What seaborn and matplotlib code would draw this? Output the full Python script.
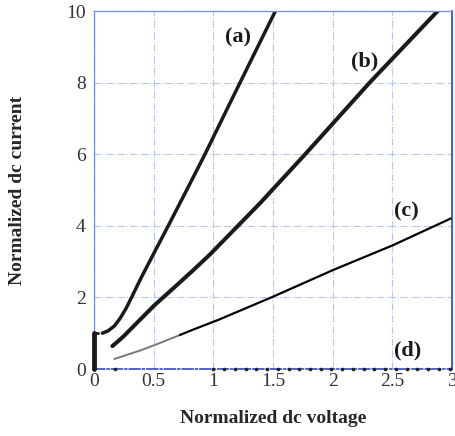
import matplotlib
matplotlib.use('Agg')
import matplotlib.pyplot as plt
import seaborn as sns

# curve (a)
a_v = [0.07, 0.12, 0.17, 0.22, 0.27, 0.31, 0.4, 0.47, 0.63, 0.8, 0.93, 1.15, 1.52]
a_i = [1.0, 1.07, 1.2, 1.42, 1.7, 1.97, 2.58, 3.03, 4.05, 5.15, 6.0, 7.5, 10.0]
# curve (b)
b_v = [0.154, 0.2, 0.25, 0.363, 0.503, 0.67, 0.838, 0.972, 1.391, 1.77, 2.31, 2.88]
b_i = [0.64, 0.77, 0.92, 1.3, 1.77, 2.27, 2.78, 3.2, 4.63, 6.0, 8.0, 10.0]
# curve (c): grey start, then black
c_grey_v = [0.17, 0.39, 0.51, 0.72]
c_grey_i = [0.28, 0.52, 0.67, 0.95]
c_v = [0.72, 0.838, 1.04, 1.5, 2.0, 2.5, 3.0]
c_i = [0.95, 1.11, 1.37, 2.02, 2.76, 3.45, 4.22]
# curve (d): points on the axis
d_v = [0.18, 1.0, 1.09, 1.18, 1.27, 1.36, 1.45, 1.54, 1.63, 1.72, 1.81, 1.90,
       1.99, 2.08, 2.17, 2.26, 2.35, 2.44, 2.53, 2.62, 2.71, 2.80, 2.89, 2.98]
d_i = [0.0] * len(d_v)
# vertical jump at V = 0
bar_v = [0.0, 0.0]
bar_i = [0.0, 1.0]
cap_v = [0.0, 0.035]
cap_i = [1.0, 1.0]

labels = ['(a)', '(b)', '(c)', '(d)']
label_v = [1.21, 2.27, 2.62, 2.63]
label_i = [9.25, 8.58, 4.39, 0.53]

xticks = [0, 0.5, 1, 1.5, 2, 2.5, 3]
xticklabels = ['0', '0.5', '1', '1.5', '2', '2.5', '3']
yticks = [0, 2, 4, 6, 8, 10]

sns.set_style('white')
plt.rcParams['font.family'] = ['Liberation Serif', 'DejaVu Serif']

fig = plt.figure(figsize=(4.55, 4.36), dpi=100)
ax = fig.add_axes([94/455, 1 - 369/436, 358/455, 358/436])

line_kw = dict(sort=False, estimator=None, ax=ax)
sns.lineplot(x=a_v, y=a_i, color='#1a1a1a', lw=2.5, **line_kw)
sns.lineplot(x=b_v, y=b_i, color='#1a1a1a', lw=2.9, **line_kw)
sns.lineplot(x=c_grey_v, y=c_grey_i, color='#777777', lw=1.4, **line_kw)
sns.lineplot(x=c_v, y=c_i, color='#000000', lw=1.6, **line_kw)
sns.lineplot(x=bar_v, y=bar_i, color='#1a1a1a', lw=3.5, clip_on=False,
             zorder=6, **line_kw)
sns.lineplot(x=cap_v, y=cap_i, color='#1a1a1a', lw=2.0, clip_on=False,
             zorder=6, **line_kw)
sns.scatterplot(x=d_v, y=d_i, color='#222222', s=7, linewidth=0, ax=ax, zorder=5,
                clip_on=False)

for t, xv, yv in zip(labels, label_v, label_i):
    ax.text(xv, yv, t, fontsize=16, fontweight='bold', ha='center', va='center',
            color='#1a1a1a')

ax.set_xlim(0, 3)
ax.set_ylim(0, 10)
ax.set_xticks(xticks)
ax.set_xticklabels(xticklabels)
ax.set_yticks(yticks)
ax.tick_params(length=0, labelsize=14, colors='#333333')
ax.tick_params(axis='x', pad=3)
ax.tick_params(axis='y', pad=6)
ax.grid(True, color='#b8c6f0', lw=0.8, ls='-.')

for side in ['left', 'top']:
    ax.spines[side].set_color('#7090e0')
    ax.spines[side].set_linewidth(0.9)
ax.spines['right'].set_color('#1f3fe0')
ax.spines['right'].set_linewidth(1.2)
ax.spines['bottom'].set_color('#2a4ad0')
ax.spines['bottom'].set_linewidth(1.2)
ax.spines['bottom'].set_linestyle('-.')

ax.set_xlabel('Normalized dc voltage', fontsize=14, fontweight='bold')
ax.set_ylabel('Normalized dc current', fontsize=14, fontweight='bold')
ax.xaxis.set_label_coords(0.5, -0.115)
ax.yaxis.set_label_coords(-0.19, 0.5)

fig.savefig('out.png', dpi=100)
